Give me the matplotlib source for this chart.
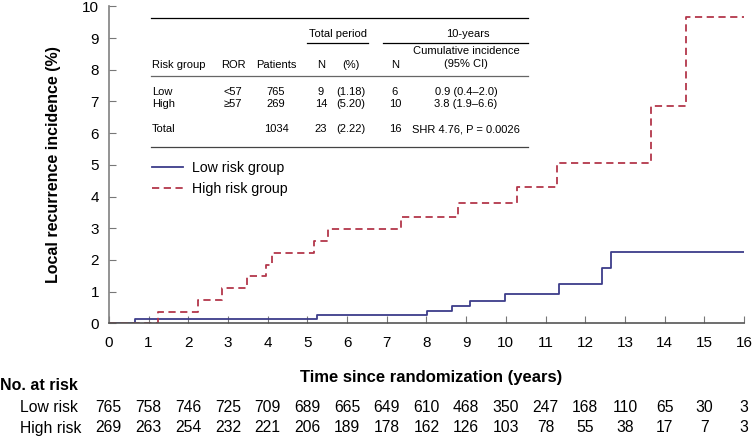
import matplotlib
matplotlib.use("Agg")
import matplotlib.pyplot as plt
from matplotlib.lines import Line2D
from matplotlib.transforms import blended_transform_factory

plt.rcParams['font.family'] = ['Liberation Sans', 'DejaVu Sans']

# cumulative incidence step data (%)
low_t = [0, 0.67, 5.25, 8.02, 8.65, 9.09, 9.98, 11.34, 12.43, 12.66, 16]
low_ci = [0, 0.13, 0.26, 0.39, 0.55, 0.71, 0.92, 1.23, 1.73, 2.26, 2.26]

high_t = [0, 1.24, 2.25, 2.86, 3.49, 3.95, 4.12, 5.18, 5.52, 7.35, 8.79,
          10.29, 11.3, 13.67, 14.55, 16]
high_ci = [0, 0.37, 0.74, 1.10, 1.48, 1.85, 2.22, 2.60, 2.97, 3.36, 3.78,
           4.31, 5.05, 6.85, 9.65, 9.65]

years = list(range(17))
low_at_risk = [765, 758, 746, 725, 709, 689, 665, 649, 610, 468, 350, 247,
               168, 110, 65, 30, 3]
high_at_risk = [269, 263, 254, 232, 221, 206, 189, 178, 162, 126, 103, 78,
                55, 38, 17, 7, 3]

# inset table
tab_header = ["Risk group", "ROR", "Patients", "N", "(%)", "N"]
tab_rows = [
    ["Low", "<57", "765", "9", "(1.18)", "6", "0.9 (0.4\u20132.0)"],
    ["High", "\u226557", "269", "14", "(5.20)", "10", "3.8 (1.9\u20136.6)"],
    ["Total", "", "1034", "23", "(2.22)", "16", "SHR 4.76, P = 0.0026"],
]

BLUE = "#3d3d8a"
RED = "#b3374b"
W, H = 753, 437
X0, X1, Y0, Y1 = 108.8, 744, 323.3, 6.3


def fx(px):
    return px / W


def fy(py):
    return 1 - py / H


fig = plt.figure(figsize=(7.53, 4.37), dpi=100)
ax = fig.add_axes([fx(X0), fy(Y0), fx(X1) - fx(X0), fy(Y1) - fy(Y0)])

ax.step(low_t, low_ci, where="post", color=BLUE, lw=1.3, label="Low risk group")
ax.step(high_t, high_ci, where="post", color=RED, lw=1.3,
        linestyle=(0, (4, 2.5)), label="High risk group")

ax.set_xlim(0, 16)
ax.set_ylim(0, 10)
ax.set_xticks(years)
ax.set_yticks(range(11))
for s in ["top", "right"]:
    ax.spines[s].set_visible(False)
ax.spines["left"].set_color("#808080")
ax.spines["bottom"].set_color("#555555")
ax.spines["left"].set_linewidth(1.2)
ax.spines["bottom"].set_linewidth(1.2)
ax.tick_params(axis="x", direction="in", length=5, color="#777777",
               labelsize=11, pad=9)
ax.tick_params(axis="y", direction="in", length=5, color="#777777",
               labelsize=11, pad=7)

ax.set_ylabel("Local recurrence incidence (%)", fontsize=11.5,
              fontweight="bold")
ax.yaxis.set_label_coords((61 - X0) / (X1 - X0), 0.5)
ax.set_xlabel("Time since randomization (years)", fontsize=12,
              fontweight="bold")
ax.xaxis.set_label_coords((431 - X0) / (X1 - X0),
                          -(370 - Y0) / (Y0 - Y1))

ax.legend(loc="upper left", bbox_to_anchor=(fx(152), fy(161)),
          bbox_transform=fig.transFigure, frameon=False, fontsize=10.2,
          handlelength=2.2, handletextpad=0.6, labelspacing=0.5,
          borderpad=0, borderaxespad=0)

# number at risk
tr = blended_transform_factory(ax.transData, fig.transFigure)
fig.text(0, fy(385), "No. at risk", fontsize=11.5, fontweight="bold",
         va="center", ha="left")
fig.text(fx(20), fy(407), "Low risk", fontsize=11.3, va="center")
fig.text(fx(20), fy(428), "High risk", fontsize=11.3, va="center")
for yr, lo, hi in zip(years, low_at_risk, high_at_risk):
    ax.text(yr, fy(407), str(lo), transform=tr, ha="center", va="center",
            fontsize=11.3)
    ax.text(yr, fy(428), str(hi), transform=tr, ha="center", va="center",
            fontsize=11.3)

# inset table
fs = 8


def hline(x0, x1, y, color="black"):
    fig.add_artist(Line2D([fx(x0), fx(x1)], [fy(y), fy(y)], color=color,
                          lw=0.9, transform=fig.transFigure))


hline(151, 528, 18.3)
hline(307, 368, 43.3)
hline(383, 528, 43.3)
hline(151, 528, 76, color="#666666")
hline(151, 528, 146.7, color="#444444")

fig.text(fx(338), fy(34), "Total period", fontsize=fs, ha="center", va="center")
fig.text(fx(468), fy(34), "10-years", fontsize=fs, ha="center", va="center")
fig.text(fx(466), fy(51.5), "Cumulative incidence", fontsize=fs,
         ha="center", va="center")
fig.text(fx(466), fy(64), "(95% CI)", fontsize=fs, ha="center", va="center")

col_x = [152, 233, 276, 321, 351, 395, 466]
col_ha = ["left", "center", "center", "center", "center", "center", "center"]
for x, ha, t in zip(col_x, col_ha, tab_header):
    fig.text(fx(x), fy(65), t, fontsize=fs, ha=ha, va="center")
for row, y in zip(tab_rows, [91.7, 104.3, 129.3]):
    for x, ha, t in zip(col_x, col_ha, row):
        fig.text(fx(x), fy(y), t, fontsize=fs, ha=ha, va="center")

fig.savefig("out.png", dpi=100)
